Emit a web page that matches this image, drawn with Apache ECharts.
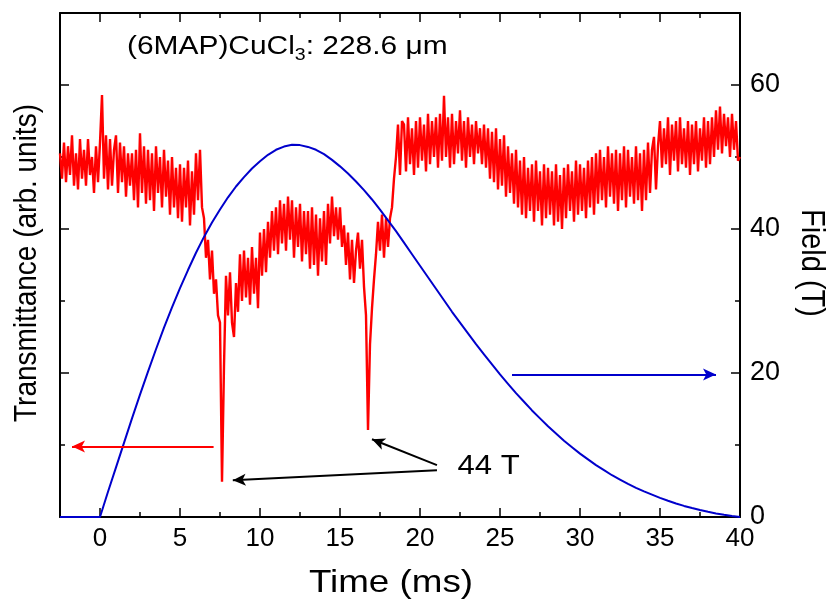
<!DOCTYPE html>
<html><head><meta charset="utf-8">
<script src="https://cdn.jsdelivr.net/npm/echarts@6/dist/echarts.min.js"></script>
<style>html,body{margin:0;padding:0;background:#fff}#c{width:827px;height:605px}</style>
</head><body><div id="c"></div>
<script>
// ---- axis ticks ----
const xMajorTicks = [0, 5, 10, 15, 20, 25, 30, 35, 40];
const xMinorTicks = [2.5, 7.5, 12.5, 17.5, 22.5, 27.5, 32.5, 37.5];
const yMajorTicks = [0, 20, 40, 60];
const yMinorTicks = [10, 30, 50];

// ---- transmittance trace (arb. units), sampled every 0.125 ms from -2.5 ms ----
const redStart = -2.5;
const redStep = 0.125;
const redValues = [
  50.5, 47.0, 52.0, 46.5,
  51.5, 47.5, 53.0, 46.0, 50.5, 45.5, 52.5, 47.0,
  51.0, 46.0, 52.5, 47.5, 50.0, 45.0, 51.5, 46.5,
  52.0, 58.6, 47.0, 53.0, 45.5, 52.5, 46.0, 51.0,
  53.0, 45.0, 52.0, 46.5, 51.5, 44.5, 50.5, 46.0,
  50.5, 44.0, 51.0, 43.0, 53.3, 45.0, 51.5, 43.5,
  51.0, 44.0, 50.5, 42.5, 51.5, 45.0, 50.0, 43.0,
  51.0, 44.5, 49.5, 42.0, 50.0, 43.0, 48.5, 41.5,
  49.0, 41.0, 48.5, 43.0, 49.5, 40.5, 48.0, 42.0,
  50.5, 44.0, 51.0, 43.0, 41.5, 36.0, 38.5, 33.0,
  37.0, 31.0, 33.0, 28.0, 27.0, 4.9, 21.0, 33.5,
  28.0, 34.0, 27.0, 25.0, 32.5, 28.5, 36.5, 30.0,
  37.0, 30.5, 36.0, 29.5, 37.5, 31.0, 36.0, 29.0,
  39.5, 33.5, 40.0, 34.0, 41.0, 36.0, 42.5, 37.0,
  43.0, 36.5, 44.0, 38.0, 43.5, 37.0, 44.5, 38.5,
  44.0, 36.0, 43.0, 37.5, 43.5, 35.5, 42.5, 36.5,
  42.5, 34.5, 43.0, 35.0, 42.0, 33.5, 41.5, 35.5,
  42.5, 35.0, 43.5, 38.0, 44.5, 39.0, 43.0, 38.5,
  43.0, 37.5, 40.5, 35.0, 39.5, 33.0, 38.5, 32.5,
  37.0, 39.5, 34.5, 38.5, 32.0, 28.0, 12.1, 24.0,
  29.0, 33.0, 36.5, 41.0, 37.0, 42.0, 36.0, 41.5,
  37.5, 41.5, 43.0, 47.0, 50.0, 54.5, 47.5, 55.0,
  54.5, 48.0, 55.5, 49.0, 54.0, 47.5, 55.0, 48.5,
  55.5, 49.5, 54.5, 48.0, 56.0, 49.0, 55.0, 50.0,
  55.5, 48.5, 56.0, 49.5, 58.5, 50.0, 55.5, 48.5,
  56.0, 49.0, 55.0, 50.5, 56.5, 49.5, 55.0, 48.5,
  55.5, 50.0, 54.5, 49.0, 55.0, 50.5, 54.0, 49.0,
  54.5, 48.5, 54.0, 47.0, 53.5, 46.5, 54.0, 45.5,
  52.5, 46.0, 53.0, 44.5, 51.5, 45.0, 50.5, 43.5,
  51.0, 43.0, 49.5, 42.0, 50.0, 41.5, 48.5, 42.5,
  49.0, 41.0, 49.5, 42.5, 48.0, 40.5, 49.0, 41.5,
  48.5, 42.0, 48.0, 40.5, 49.0, 41.0, 47.5, 40.0,
  48.5, 41.5, 49.0, 42.5, 48.0, 41.0, 49.5, 42.0,
  49.0, 42.5, 48.5, 41.5, 49.5, 43.0, 50.0, 42.0,
  50.5, 43.5, 51.0, 44.0, 50.0, 43.0, 51.5, 44.5,
  50.5, 43.5, 51.0, 42.5, 50.5, 44.0, 51.5, 43.0,
  51.0, 44.5, 50.0, 43.5, 51.5, 44.0, 50.5, 42.5,
  51.0, 44.0, 52.0, 45.0, 51.0, 52.8, 45.5, 51.5,
  55.0, 48.5, 54.0, 49.0, 55.5, 47.5, 54.5, 49.5,
  55.0, 48.0, 55.5, 49.0, 54.0, 48.5, 55.0, 47.5,
  54.5, 49.0, 55.0, 48.0, 54.0, 49.5, 55.5, 48.5,
  55.0, 49.0, 55.5, 50.0, 56.5, 51.0, 57.0, 50.5,
  56.0, 51.5, 55.5, 50.0, 56.0, 51.0, 55.0, 49.5,
  50.0
];

// ---- magnetic field pulse (T), read every 0.5 ms ----
const fieldTime = [-2.5, 0, 0.5, 1, 1.5, 2, 2.5, 3, 3.5, 4, 4.5, 5, 5.5, 6, 6.5, 7, 7.5, 8, 8.5, 9, 9.5,
  10, 10.5, 11, 11.5, 12, 12.5, 13, 13.5, 14, 14.5, 15, 15.5, 16, 16.5, 17, 17.5, 18, 18.5, 19, 19.5,
  20, 20.5, 21, 21.5, 22, 22.5, 23, 23.5, 24, 24.5, 25, 25.5, 26, 26.5, 27, 27.5, 28, 28.5, 29, 29.5,
  30, 30.5, 31, 31.5, 32, 32.5, 33, 33.5, 34, 34.5, 35, 35.5, 36, 36.5, 37, 37.5, 38, 38.5, 39, 39.5, 40];
const fieldValues = [0, 0, 3.5, 6.9, 10.3, 13.7, 17.0, 20.2, 23.3, 26.3, 29.1, 31.8, 34.3, 36.7, 38.9,
  40.9, 42.7, 44.4, 45.9, 47.2, 48.4,
  49.4, 50.3, 51.0, 51.45, 51.7, 51.65, 51.4, 51.0, 50.4, 49.6, 48.7, 47.7, 46.6, 45.4, 44.1, 42.7,
  41.2, 39.7, 38.1, 36.5,
  34.9, 33.3, 31.7, 30.1, 28.5, 27.0, 25.5, 24.0, 22.6, 21.2, 19.8, 18.5, 17.2, 16.0, 14.8, 13.7,
  12.6, 11.6, 10.6, 9.7,
  8.8, 8.0, 7.2, 6.5, 5.8, 5.2, 4.6, 4.05, 3.55, 3.1, 2.65, 2.25, 1.88, 1.54, 1.24, 0.96, 0.72, 0.5,
  0.3, 0.13, 0];

// ---- annotation arrows [from, to] in data units ----
const redArrow = [[7.1, 9.8], [-1.75, 9.8]];
const blueArrow = [[25.75, 19.8], [38.5, 19.8]];
const arrow44a = [[21.06, 7.2], [17.0, 10.8]];
const arrow44b = [[21.06, 6.5], [8.3, 5.1]];
const label44 = { text: '44 T', at: [22.35, 7.0] };

const FONT = '"Liberation Sans", Arial, Helvetica, sans-serif';
const STRETCH = 1.15;

const redData = redValues.map((v, i) => [redStart + i * redStep, v]);
const fieldData = fieldTime.map((t, i) => [t, fieldValues[i]]);

const chart = echarts.init(document.getElementById('c'), null, { renderer: 'canvas' });

function xAx(pos, ticks, len, showLine, showLabel) {
  return {
    type: 'value', position: pos, min: -2.5, max: 40,
    axisLine: { show: showLine, onZero: false, lineStyle: { color: '#000', width: 2 } },
    axisTick: { show: true, inside: true, length: len, customValues: ticks, lineStyle: { color: '#000', width: 1.5 } },
    axisLabel: { show: showLabel, customValues: ticks, color: '#000', fontSize: 26, fontFamily: FONT, margin: 9 },
    splitLine: { show: false }
  };
}
function yAx(pos, ticks, len, showLine, showLabel) {
  return {
    type: 'value', position: pos, min: 0, max: 70,
    axisLine: { show: showLine, onZero: false, lineStyle: { color: '#000', width: 2 } },
    axisTick: { show: true, inside: true, length: len, customValues: ticks, lineStyle: { color: '#000', width: 1.5 } },
    axisLabel: { show: showLabel, customValues: ticks, color: '#000', fontSize: 27, fontFamily: FONT, margin: 10 },
    splitLine: { show: false }
  };
}

function arrowLine(pair, color, width) {
  return [
    { coord: pair[0], lineStyle: { color: color, width: width, type: 'solid' } },
    { coord: pair[1] }
  ];
}

chart.setOption({
  animation: false,
  backgroundColor: '#fff',
  grid: { left: 60, right: 87, top: 13, bottom: 88 },
  xAxis: [
    xAx('bottom', xMajorTicks, 9, true, true),
    xAx('bottom', xMinorTicks, 5, false, false),
    xAx('top', xMajorTicks, 9, true, false),
    xAx('top', xMinorTicks, 5, false, false)
  ],
  yAxis: [
    yAx('left', yMajorTicks, 9, true, false),
    yAx('left', yMinorTicks, 5, false, false),
    yAx('right', yMajorTicks, 9, true, true),
    yAx('right', yMinorTicks, 5, false, false)
  ],
  series: [
    {
      name: 'Transmittance', type: 'line', xAxisIndex: 0, yAxisIndex: 0,
      data: redData, showSymbol: false, z: 2,
      lineStyle: { color: '#ff0000', width: 2.4 },
      emphasis: { disabled: true }
    },
    {
      name: 'Field', type: 'line', xAxisIndex: 0, yAxisIndex: 2,
      data: fieldData, showSymbol: false, z: 3,
      lineStyle: { color: '#0000cc', width: 2 },
      emphasis: { disabled: true },
      markLine: {
        silent: true, animation: false,
        symbol: ['none', 'arrow'], symbolSize: [9, 13],
        label: { show: false },
        emphasis: { disabled: true },
        data: [
          arrowLine(redArrow, '#ff0000', 2),
          arrowLine(blueArrow, '#0000cc', 2),
          arrowLine(arrow44a, '#000', 2),
          arrowLine(arrow44b, '#000', 2)
        ]
      }
    }
  ]
});

// ---- texts ----
const ctx = document.createElement('canvas').getContext('2d');
function tw(s, size) { ctx.font = size + 'px ' + FONT; return ctx.measureText(s).width; }

const t1 = '(6MAP)CuCl', t2 = '3', t3 = ': 228.6 \u03bcm';
const w1 = tw(t1, 26), w2 = tw(t2, 17);
const p44 = chart.convertToPixel({ xAxisIndex: 0, yAxisIndex: 2 }, label44.at);

chart.setOption({
  graphic: [
    {
      type: 'group', x: 127, y: 47, scaleX: STRETCH, children: [
        { type: 'text', x: 0, y: 0, style: { text: t1, font: '26px ' + FONT, fill: '#000', textVerticalAlign: 'middle' } },
        { type: 'text', x: w1, y: 8, style: { text: t2, font: '17px ' + FONT, fill: '#000', textVerticalAlign: 'middle' } },
        { type: 'text', x: w1 + w2, y: 0, style: { text: t3, font: '26px ' + FONT, fill: '#000', textVerticalAlign: 'middle' } }
      ]
    },
    { type: 'text', x: 391, y: 583, scaleX: STRETCH,
      style: { text: 'Time (ms)', font: '32px ' + FONT, fill: '#000', textAlign: 'center', textVerticalAlign: 'middle' } },
    { type: 'text', x: 27, y: 263, rotation: Math.PI / 2, scaleY: STRETCH,
      style: { text: 'Transmittance (arb. units)', font: '28px ' + FONT, fill: '#000', textAlign: 'center', textVerticalAlign: 'middle' } },
    { type: 'text', x: 811, y: 263, rotation: -Math.PI / 2, scaleY: STRETCH,
      style: { text: 'Field (T)', font: '29px ' + FONT, fill: '#000', textAlign: 'center', textVerticalAlign: 'middle' } },
    { type: 'text', x: p44[0], y: p44[1], scaleX: STRETCH,
      style: { text: label44.text, font: '27px ' + FONT, fill: '#000', textAlign: 'left', textVerticalAlign: 'middle' } }
  ]
});
</script>
</body></html>
